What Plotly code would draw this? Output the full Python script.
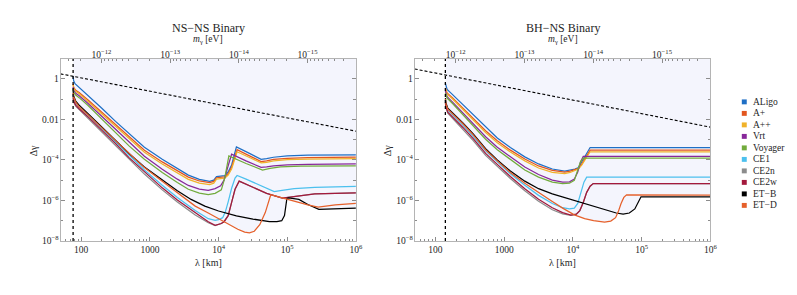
import numpy as np
import plotly.graph_objects as go

W, H = 797, 295
PAGE_OFFSET = 8  # default body margin of the html page

SERIES_NAMES = ["ALigo", "A+", "A++", "Vrt", "Voyager", "CE1", "CE2n", "CE2w", "ET−B", "ET−D"]
SERIES_COLORS = ["#1f6fc5", "#e2561f", "#f0b22a", "#88289a", "#72ab3d",
                 "#4cc0ee", "#8c8c8c", "#a3193c", "#000000", "#e5602b"]

# cut-off wavelengths (km) and the dashed bound line
NSNS_LAMBDA_CUT = 76.2
BHNS_LAMBDA_CUT = 139.6
BOUND_LAMBDA = [50, 1e6]
NSNS_BOUND = [1.75, 2.6e-3]
BHNS_BOUND = [3.05, 4.1e-3]

# ---------------- NS-NS panel : log10(lambda/km), log10(Delta gamma) ----------------
NSNS_ALIGO_LOGL = [1.882, 1.89, 1.91, 1.95, 2.0, 2.1, 2.3, 2.5, 2.7, 2.92, 3.18, 3.4, 3.56, 3.72, 3.87, 3.93, 3.97, 4.09, 4.14, 4.19, 4.23, 4.26, 4.45, 4.62, 4.7, 4.8, 5.0, 5.3, 6.0]
NSNS_ALIGO_LOGD = [0.1, -0.1, -0.24, -0.36, -0.5, -0.8, -1.45, -2.1, -2.73, -3.38, -3.97, -4.43, -4.75, -4.96, -5.06, -5.0, -4.82, -4.78, -4.6, -4.25, -3.8, -3.36, -3.68, -3.97, -3.94, -3.87, -3.8, -3.77, -3.75]

NSNS_APLUS_LOGL = [1.882, 1.89, 1.92, 1.97, 2.1, 2.3, 2.5, 2.7, 2.92, 3.18, 3.4, 3.56, 3.72, 3.87, 3.93, 3.97, 4.09, 4.14, 4.19, 4.23, 4.27, 4.45, 4.62, 4.7, 4.8, 5.0, 5.3, 6.0]
NSNS_APLUS_LOGD = [-0.25, -0.42, -0.57, -0.68, -1.05, -1.65, -2.27, -2.88, -3.52, -4.1, -4.55, -4.85, -5.04, -5.12, -5.06, -4.88, -4.84, -4.68, -4.35, -3.92, -3.5, -3.8, -4.08, -4.05, -3.98, -3.92, -3.89, -3.87]

NSNS_APP_LOGL = [1.882, 1.89, 1.92, 1.97, 2.1, 2.3, 2.5, 2.7, 2.92, 3.18, 3.4, 3.56, 3.72, 3.87, 3.93, 3.97, 4.09, 4.14, 4.19, 4.23, 4.27, 4.45, 4.62, 4.7, 4.8, 5.0, 5.3, 6.0]
NSNS_APP_LOGD = [-0.3, -0.47, -0.62, -0.74, -1.12, -1.73, -2.37, -2.99, -3.62, -4.2, -4.65, -4.96, -5.15, -5.22, -5.15, -4.95, -4.9, -4.75, -4.45, -4.02, -3.6, -3.88, -4.15, -4.12, -4.05, -3.99, -3.96, -3.94]

NSNS_VRT_LOGL = [1.882, 1.89, 1.92, 1.97, 2.1, 2.3, 2.5, 2.7, 2.92, 3.18, 3.4, 3.56, 3.72, 3.85, 3.95, 4.03, 4.08, 4.13, 4.19, 4.4, 4.62, 4.7, 4.8, 5.0, 5.3, 6.0]
NSNS_VRT_LOGD = [-0.4, -0.57, -0.72, -0.84, -1.22, -1.85, -2.5, -3.15, -3.82, -4.46, -4.95, -5.26, -5.44, -5.5, -5.42, -5.28, -5.0, -4.4, -3.72, -4.05, -4.37, -4.35, -4.3, -4.25, -4.22, -4.2]

NSNS_VOY_LOGL = [1.882, 1.89, 1.92, 1.97, 2.1, 2.3, 2.5, 2.7, 2.92, 3.18, 3.4, 3.56, 3.72, 3.85, 3.95, 4.04, 4.09, 4.13, 4.15, 4.4, 4.64, 4.75, 4.9, 5.2, 6.0]
NSNS_VOY_LOGD = [-0.5, -0.66, -0.8, -0.93, -1.32, -1.98, -2.65, -3.32, -3.97, -4.62, -5.12, -5.45, -5.64, -5.71, -5.65, -5.48, -4.9, -4.1, -3.8, -4.18, -4.5, -4.42, -4.35, -4.31, -4.29]

NSNS_CE1_LOGL = [1.882, 1.89, 1.92, 1.97, 2.1, 2.3, 2.5, 2.7, 2.92, 3.18, 3.4, 3.66, 3.85, 3.95, 4.0, 4.06, 4.1, 4.14, 4.19, 4.24, 4.27, 4.4, 4.6, 4.81, 4.9, 5.1, 5.4, 6.0]
NSNS_CE1_LOGD = [-0.8, -1.0, -1.2, -1.4, -1.8, -2.45, -3.12, -3.8, -4.5, -5.25, -5.85, -6.5, -6.9, -6.98, -6.95, -6.85, -6.55, -6.07, -5.4, -4.9, -4.77, -4.95, -5.25, -5.56, -5.52, -5.42, -5.35, -5.31]

NSNS_CE2N_LOGL = [1.882, 1.89, 1.92, 1.97, 2.1, 2.3, 2.5, 2.7, 2.92, 3.18, 3.4, 3.66, 3.85, 3.95, 4.04, 4.08, 4.14, 4.19, 4.24, 4.3, 4.5, 4.7, 4.93, 5.1, 5.4, 6.0]
NSNS_CE2N_LOGD = [-0.95, -1.15, -1.35, -1.52, -1.95, -2.6, -3.28, -3.97, -4.7, -5.48, -6.08, -6.72, -7.1, -7.24, -7.14, -7.05, -6.75, -6.1, -5.45, -5.05, -5.35, -5.65, -5.88, -5.8, -5.68, -5.63]

NSNS_CE2W_LOGL = [1.882, 1.89, 1.92, 1.97, 2.1, 2.3, 2.5, 2.7, 2.92, 3.18, 3.4, 3.66, 3.85, 3.95, 4.04, 4.08, 4.14, 4.19, 4.24, 4.3, 4.5, 4.7, 4.93, 5.1, 5.4, 6.0]
NSNS_CE2W_LOGD = [-0.9, -1.1, -1.3, -1.48, -1.88, -2.52, -3.2, -3.9, -4.6, -5.38, -5.98, -6.62, -7.05, -7.23, -7.14, -7.05, -6.75, -6.1, -5.45, -5.05, -5.35, -5.65, -5.88, -5.8, -5.68, -5.63]

NSNS_ETB_LOGL = [1.882, 1.89, 1.92, 1.97, 2.1, 2.3, 2.5, 2.7, 2.92, 3.2, 3.4, 3.6, 3.8, 4.0, 4.26, 4.5, 4.74, 4.85, 4.92, 4.96, 4.98, 4.995, 5.02, 5.17, 5.3, 5.46, 6.0]
NSNS_ETB_LOGD = [-0.6, -0.85, -1.1, -1.3, -1.72, -2.38, -3.05, -3.7, -4.35, -5.05, -5.52, -5.95, -6.28, -6.52, -6.76, -6.92, -7.04, -7.05, -7.0, -6.75, -6.3, -5.9, -5.88, -5.95, -6.2, -6.44, -6.38]

NSNS_ETD_LOGL = [1.882, 1.89, 1.92, 1.97, 2.1, 2.3, 2.5, 2.7, 2.92, 3.18, 3.4, 3.66, 3.85, 4.0, 4.15, 4.28, 4.38, 4.45, 4.52, 4.6, 4.68, 4.73, 4.76, 4.9, 5.1, 5.3, 5.45, 5.7, 6.0]
NSNS_ETD_LOGD = [-0.7, -0.9, -1.15, -1.38, -1.78, -2.42, -3.07, -3.72, -4.38, -5.05, -5.62, -6.28, -6.62, -6.9, -7.18, -7.42, -7.56, -7.6, -7.52, -7.2, -6.6, -6.05, -5.72, -5.85, -6.05, -6.22, -6.33, -6.22, -6.15]

# ---------------- BH-NS panel ----------------
BHNS_ALIGO_LOGL = [2.145, 2.155, 2.17, 2.25, 2.4, 2.55, 2.73, 2.9, 3.09, 3.3, 3.5, 3.7, 3.88, 3.96, 4.03, 4.08, 4.13, 4.2, 4.25, 6.0]
BHNS_ALIGO_LOGD = [-0.22, -0.42, -0.52, -0.78, -1.28, -1.8, -2.4, -2.92, -3.39, -3.85, -4.2, -4.45, -4.55, -4.5, -4.45, -4.38, -4.1, -3.65, -3.39, -3.39]

BHNS_APLUS_LOGL = [2.145, 2.155, 2.17, 2.25, 2.4, 2.55, 2.73, 2.9, 3.09, 3.3, 3.5, 3.7, 3.88, 3.96, 4.03, 4.08, 4.13, 4.2, 4.25, 6.0]
BHNS_APLUS_LOGD = [-0.45, -0.6, -0.7, -0.95, -1.45, -1.97, -2.56, -3.06, -3.52, -3.96, -4.3, -4.52, -4.6, -4.55, -4.48, -4.42, -4.2, -3.8, -3.52, -3.52]

BHNS_APP_LOGL = [2.145, 2.155, 2.17, 2.25, 2.4, 2.55, 2.73, 2.9, 3.09, 3.3, 3.5, 3.7, 3.88, 3.96, 4.03, 4.08, 4.13, 4.2, 4.25, 6.0]
BHNS_APP_LOGD = [-0.5, -0.65, -0.75, -1.0, -1.52, -2.05, -2.65, -3.15, -3.61, -4.05, -4.4, -4.62, -4.68, -4.62, -4.52, -4.45, -4.25, -3.85, -3.6, -3.6]

BHNS_VRT_LOGL = [2.145, 2.155, 2.17, 2.25, 2.4, 2.55, 2.73, 2.9, 3.09, 3.3, 3.5, 3.7, 3.85, 3.95, 4.02, 4.07, 4.11, 4.15, 6.0]
BHNS_VRT_LOGD = [-0.6, -0.78, -0.88, -1.15, -1.68, -2.22, -2.86, -3.38, -3.86, -4.35, -4.72, -5.0, -5.1, -5.08, -4.95, -4.6, -4.1, -3.83, -3.83]

BHNS_VOY_LOGL = [2.145, 2.155, 2.17, 2.25, 2.4, 2.55, 2.73, 2.9, 3.09, 3.3, 3.5, 3.7, 3.85, 3.95, 4.02, 4.07, 4.11, 4.15, 6.0]
BHNS_VOY_LOGD = [-0.7, -0.85, -0.95, -1.22, -1.76, -2.32, -2.98, -3.5, -3.98, -4.5, -4.85, -5.1, -5.17, -5.15, -5.01, -4.55, -4.1, -3.91, -3.91]

BHNS_CE1_LOGL = [2.145, 2.155, 2.18, 2.25, 2.4, 2.55, 2.73, 2.9, 3.09, 3.3, 3.5, 3.7, 3.85, 3.95, 4.02, 4.07, 4.12, 4.16, 4.2, 6.0]
BHNS_CE1_LOGD = [-1.05, -1.3, -1.55, -1.78, -2.3, -2.85, -3.55, -4.1, -4.68, -5.25, -5.75, -6.15, -6.36, -6.42, -6.38, -6.15, -5.6, -5.1, -4.85, -4.85]

BHNS_CE2N_LOGL = [2.145, 2.155, 2.18, 2.25, 2.4, 2.55, 2.73, 2.9, 3.09, 3.3, 3.5, 3.7, 3.85, 3.97, 4.05, 4.1, 4.15, 4.2, 4.25, 4.295, 6.0]
BHNS_CE2N_LOGD = [-1.2, -1.45, -1.7, -1.95, -2.48, -3.05, -3.78, -4.32, -4.92, -5.52, -6.04, -6.46, -6.66, -6.74, -6.68, -6.5, -6.1, -5.6, -5.3, -5.17, -5.17]

BHNS_CE2W_LOGL = [2.145, 2.155, 2.18, 2.25, 2.4, 2.55, 2.73, 2.9, 3.09, 3.3, 3.5, 3.7, 3.85, 3.97, 4.05, 4.1, 4.15, 4.2, 4.25, 4.295, 6.0]
BHNS_CE2W_LOGD = [-1.15, -1.4, -1.65, -1.88, -2.4, -2.95, -3.68, -4.22, -4.82, -5.42, -5.94, -6.36, -6.6, -6.72, -6.68, -6.5, -6.1, -5.6, -5.3, -5.17, -5.17]

BHNS_ETB_LOGL = [2.145, 2.155, 2.18, 2.25, 2.4, 2.55, 2.73, 2.9, 3.09, 3.3, 3.5, 3.7, 3.84, 4.0, 4.13, 4.3, 4.5, 4.63, 4.73, 4.82, 4.9, 4.95, 4.99, 6.0]
BHNS_ETB_LOGD = [-0.95, -1.2, -1.45, -1.68, -2.18, -2.72, -3.45, -4.0, -4.55, -5.05, -5.42, -5.68, -5.82, -5.98, -6.12, -6.3, -6.5, -6.62, -6.68, -6.62, -6.42, -6.1, -5.82, -5.82]

BHNS_ETD_LOGL = [2.145, 2.155, 2.18, 2.25, 2.4, 2.55, 2.73, 2.9, 3.09, 3.3, 3.5, 3.7, 3.85, 4.02, 4.17, 4.3, 4.46, 4.55, 4.62, 4.66, 4.7, 4.74, 4.78, 6.0]
BHNS_ETD_LOGD = [-1.0, -1.25, -1.5, -1.72, -2.22, -2.77, -3.5, -4.05, -4.62, -5.15, -5.62, -6.05, -6.38, -6.71, -6.9, -7.0, -7.07, -7.02, -6.85, -6.55, -6.15, -5.85, -5.72, -5.74]

X_TICK_VALS = [100, 1000, 1e4, 1e5, 1e6]
X_TICK_TEXT = ["100", "1000", "10<sup>4</sup>", "10<sup>5</sup>", "10<sup>6</sup>"]
Y_TICK_VALS = [1, 1e-2, 1e-4, 1e-6, 1e-8]
Y_TICK_TEXT = ["1", "0.01", "10<sup>−4</sup>", "10<sup>−6</sup>", "10<sup>−8</sup>"]
MASS_TICK_VALS = [1e-12, 1e-13, 1e-14, 1e-15]
MASS_TICK_TEXT = ["10<sup>−12</sup>", "10<sup>−13</sup>", "10<sup>−14</sup>", "10<sup>−15</sup>"]
HBAR_C_EV_KM = 1.97327e-10   # lambda[km] = hbar*c / m

# ------------------------------------------------------------------
NSNS = [(NSNS_ALIGO_LOGL, NSNS_ALIGO_LOGD), (NSNS_APLUS_LOGL, NSNS_APLUS_LOGD),
        (NSNS_APP_LOGL, NSNS_APP_LOGD), (NSNS_VRT_LOGL, NSNS_VRT_LOGD),
        (NSNS_VOY_LOGL, NSNS_VOY_LOGD), (NSNS_CE1_LOGL, NSNS_CE1_LOGD),
        (NSNS_CE2N_LOGL, NSNS_CE2N_LOGD), (NSNS_CE2W_LOGL, NSNS_CE2W_LOGD),
        (NSNS_ETB_LOGL, NSNS_ETB_LOGD), (NSNS_ETD_LOGL, NSNS_ETD_LOGD)]
BHNS = [(BHNS_ALIGO_LOGL, BHNS_ALIGO_LOGD), (BHNS_APLUS_LOGL, BHNS_APLUS_LOGD),
        (BHNS_APP_LOGL, BHNS_APP_LOGD), (BHNS_VRT_LOGL, BHNS_VRT_LOGD),
        (BHNS_VOY_LOGL, BHNS_VOY_LOGD), (BHNS_CE1_LOGL, BHNS_CE1_LOGD),
        (BHNS_CE2N_LOGL, BHNS_CE2N_LOGD), (BHNS_CE2W_LOGL, BHNS_CE2W_LOGD),
        (BHNS_ETB_LOGL, BHNS_ETB_LOGD), (BHNS_ETD_LOGL, BHNS_ETD_LOGD)]

X_RANGE = [np.log10(50), 6]
Y_RANGE = [-8, 0.97]
FILL = "rgb(244,245,253)"
FONT = "Liberation Serif, Times New Roman, serif"
TXT = "#262626"
FRAME = "#b4b4b4"
TICKC = "#8c8c8c"


def px(x):
    return (x - PAGE_OFFSET) / W


def py(y):
    return 1 - (y - PAGE_OFFSET) / H


fig = go.Figure()


def add_panel(curves, cut, bound, xa, ya, xtop):
    lo = np.log10(cut)
    allx = np.concatenate([np.array(c[0], float) for c in curves])
    grid = np.union1d(np.linspace(lo, 6, 800), allx)
    grid = grid[grid >= lo]
    env = np.min([np.interp(grid, c[0], c[1]) for c in curves], axis=0)
    top = Y_RANGE[1] + 0.1
    fx = np.concatenate([[lo], grid, [6, lo]])
    fy = np.concatenate([[top], env, [top, top]])
    fig.add_trace(go.Scatter(x=10 ** fx, y=10 ** fy, fill="toself", fillcolor=FILL,
                             mode="lines", line=dict(width=0), hoverinfo="skip",
                             showlegend=False, xaxis=xa, yaxis=ya))
    for (lx, ld), col, name in zip(curves, SERIES_COLORS, SERIES_NAMES):
        fig.add_trace(go.Scatter(x=10 ** np.array(lx), y=10 ** np.array(ld), mode="lines",
                                 line=dict(color=col, width=1.25), name=name,
                                 showlegend=False, xaxis=xa, yaxis=ya))
    fig.add_trace(go.Scatter(x=[cut, cut], y=[10 ** Y_RANGE[0], 10 ** Y_RANGE[1]], mode="lines",
                             line=dict(color="black", width=1.3, dash="dot"),
                             showlegend=False, xaxis=xa, yaxis=ya))
    fig.add_trace(go.Scatter(x=BOUND_LAMBDA, y=bound, mode="lines",
                             line=dict(color="black", width=1.1, dash="3px,2px"),
                             showlegend=False, xaxis=xtop, yaxis=ya))


add_panel(NSNS, NSNS_LAMBDA_CUT, NSNS_BOUND, "x", "y", "x3")
add_panel(BHNS, BHNS_LAMBDA_CUT, BHNS_BOUND, "x2", "y2", "x4")

x_minor = [k * 10 ** e for e in range(1, 6) for k in range(2, 10) if 50 <= k * 10 ** e <= 1e6]
y_minor = [10.0 ** e for e in (-7, -5, -3, -1)]
m_minor = [HBAR_C_EV_KM / (k * 10.0 ** e) for e in range(-17, -11) for k in range(2, 10)]
m_minor = [v for v in m_minor if 50 <= v <= 1e6]
m_major = [HBAR_C_EV_KM / m for m in MASS_TICK_VALS]

tickfont = dict(family=FONT, size=9.5, color=TXT)


def xax(domain, anchor):
    return dict(domain=domain, anchor=anchor, type="log", range=X_RANGE,
                tickmode="array", tickvals=X_TICK_VALS, ticktext=X_TICK_TEXT,
                ticks="inside", ticklen=4, tickcolor=TICKC, tickwidth=0.8,
                showline=True, linecolor=FRAME, linewidth=1, mirror=True,
                showgrid=False, zeroline=False, tickfont=tickfont,
                minor=dict(tickmode="array", tickvals=x_minor, ticks="inside",
                           ticklen=2, tickcolor=TICKC, tickwidth=0.6, showgrid=False))


def yax(domain, anchor):
    return dict(domain=domain, anchor=anchor, type="log", range=Y_RANGE,
                tickmode="array", tickvals=Y_TICK_VALS, ticktext=Y_TICK_TEXT,
                ticks="inside", ticklen=4, tickcolor=TICKC, tickwidth=0.8,
                showline=True, linecolor=FRAME, linewidth=1, mirror="ticks",
                showgrid=False, zeroline=False, tickfont=tickfont,
                ticklabelstandoff=-1,
                minor=dict(tickmode="array", tickvals=y_minor, ticks="inside",
                           ticklen=2.5, tickcolor=TICKC, tickwidth=0.6, showgrid=False))


def topax(over, anchor):
    return dict(overlaying=over, anchor=anchor, side="top", type="log", range=X_RANGE,
                tickmode="array", tickvals=m_major, ticktext=MASS_TICK_TEXT,
                ticks="inside", ticklen=4, tickcolor=TICKC, tickwidth=0.8,
                showline=False, showgrid=False, zeroline=False, tickfont=tickfont,
                ticklabelstandoff=-2,
                minor=dict(tickmode="array", tickvals=m_minor, ticks="inside",
                           ticklen=2, tickcolor=TICKC, tickwidth=0.6, showgrid=False))


YDOM = [py(245), py(60)]
fig.update_layout(
    width=W, height=H, autosize=False,
    margin=dict(l=0, r=0, t=0, b=0, pad=0),
    paper_bgcolor="white", plot_bgcolor="white",
    showlegend=False,
    font=dict(family=FONT, color=TXT),
    xaxis=xax([px(61), px(359)], "y"),
    yaxis=yax(YDOM, "x"),
    xaxis2=xax([px(418.3), px(716.7)], "y2"),
    yaxis2=yax(YDOM, "x2"),
    xaxis3=topax("x", "y"),
    xaxis4=topax("x2", "y2"),
)

ann = []
shapes = []


def label(text, x, y, size, xanchor="center", angle=0):
    ann.append(dict(text=text, x=px(x), y=py(y), xref="paper", yref="paper",
                    xanchor=xanchor, yanchor="middle", showarrow=False, textangle=angle,
                    font=dict(family=FONT, size=size, color=TXT)))


for cx, title in ((210, "NS−NS Binary"), (567.5, "BH−NS Binary")):
    label(title, cx, 28, 12)
    label("<i>m</i><sub>γ</sub> [eV]", cx, 40, 9.5)
    label("λ [km]", cx, 267, 10)
for cx in (34, 391):
    label("Δγ", cx, 153, 10, angle=-90)

for i, (name, col) in enumerate(zip(SERIES_NAMES, SERIES_COLORS)):
    yc = 103.5 + 11.7 * i
    shapes.append(dict(type="rect", xref="paper", yref="paper",
                       x0=px(748.3), x1=px(753.3), y0=py(yc + 2.5), y1=py(yc - 2.5),
                       fillcolor=col, line=dict(width=0)))
    label(name, 757.5, yc, 9.5, xanchor="left")

fig.update_layout(annotations=ann, shapes=shapes)
fig.write_html("out.html")
